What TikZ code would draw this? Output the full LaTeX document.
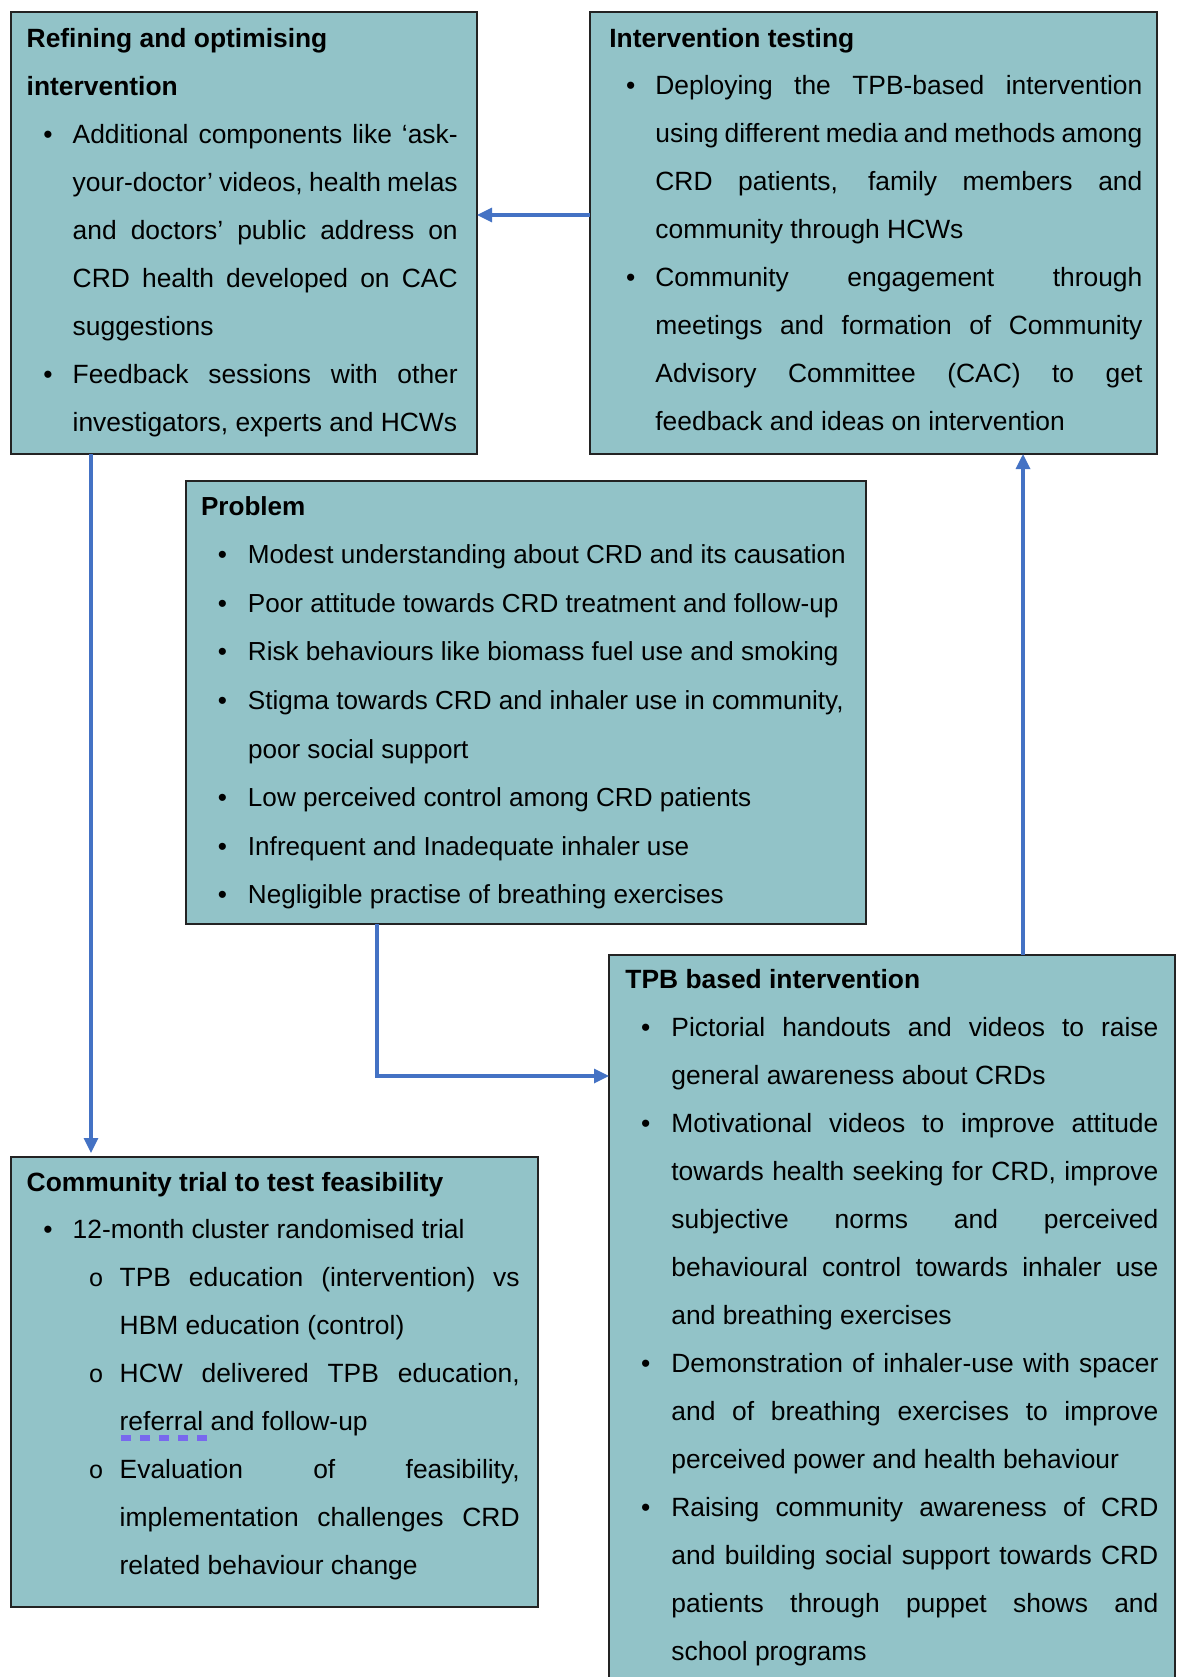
\documentclass[tikz,border=0pt]{standalone}
\usepackage{fontspec}
\setmainfont{Liberation Sans}
\newfontfamily\monofam{Liberation Mono}
\usetikzlibrary{arrows.meta}

\definecolor{boxfill}{RGB}{146,195,200}
\definecolor{boxline}{RGB}{35,35,35}
\definecolor{arrowblue}{RGB}{68,114,196}
\definecolor{markblue}{RGB}{120,104,238}

% indents used by the line macros (set inside each text block)
\newdimen\bulx \newdimen\txtx \newdimen\subbulx \newdimen\subtxtx

% one typeset line each: J = justified to the full width, N = natural width
\newcommand\headline[1]{\hbox{\vrule height 20pt depth 0pt width 0pt\bfseries #1}}
\newcommand\headmore[1]{\hbox{\bfseries #1}}
\newcommand\bulletmark{\rlap{\hskip\bulx\makebox[0pt]{\textbullet}}}
\newcommand\ringmark{\rlap{\hskip\subbulx\makebox[0pt]{\fontsize{25pt}{25pt}\monofam o}}}
\newcommand\itemJ[1]{\hbox to \hsize{\bulletmark\hskip\txtx #1}}
\newcommand\itemN[1]{\hbox to \hsize{\bulletmark\hskip\txtx #1\hfil}}
\newcommand\contJ[1]{\hbox to \hsize{\hskip\txtx #1}}
\newcommand\contN[1]{\hbox to \hsize{\hskip\txtx #1\hfil}}
\newcommand\subJ[1]{\hbox to \hsize{\ringmark\hskip\subtxtx #1}}
\newcommand\subN[1]{\hbox to \hsize{\ringmark\hskip\subtxtx #1\hfil}}
\newcommand\subcontJ[1]{\hbox to \hsize{\hskip\subtxtx #1}}
\newcommand\subcontN[1]{\hbox to \hsize{\hskip\subtxtx #1\hfil}}

\begin{document}
\begin{tikzpicture}[x=1pt,y=1pt,
  box/.style={draw=boxline,line width=1.4pt,fill=boxfill,inner sep=0pt,outer sep=0pt,anchor=north west},
  txt/.style={inner sep=0pt,outer sep=0pt,anchor=north west,font=\fontsize{26.4pt}{48pt}\selectfont},
  arr/.style={draw=arrowblue,line width=3.2pt,-{Triangle[length=15pt,width=14pt]}}]
\useasboundingbox (0,0) rectangle (1176,-1677);
\fill[white] (0,0) rectangle (1176,-1677);

\begin{scope}
\clip (0,0) rectangle (1176,-1677);

% boxes
\node[box,minimum width=466pt,minimum height=442pt] (refine) at (11,-12) {};
\node[box,minimum width=567pt,minimum height=442pt] (test) at (590,-12) {};
\node[box,minimum width=680pt,minimum height=443pt] (problem) at (186,-481) {};
\node[box,minimum width=566pt,minimum height=760pt] (tpb) at (609,-955) {};
\node[box,minimum width=527pt,minimum height=450pt] (trial) at (11,-1157) {};

% Refining and optimising intervention
\node[txt] (refineText) at (26.7,-27) {\vbox{\hsize=431pt\baselineskip=48pt
  \bulx=21.3pt \txtx=46pt
  \headline{Refining and optimising}
  \headmore{intervention}
  \itemJ{Additional components like ‘ask-}
  \contJ{your-doctor’ videos, health melas}
  \contJ{and doctors’ public address on}
  \contJ{CRD health developed on CAC}
  \contN{suggestions}
  \itemJ{Feedback sessions with other}
  \contN{investigators, experts and HCWs}}};

% Intervention testing
\node[txt] (testText) at (609.4,-27) {\vbox{\hsize=533pt\baselineskip=47.9pt
  \bulx=21.4pt \txtx=46pt
  \headline{Intervention testing}
  \itemJ{Deploying the TPB-based intervention}
  \contJ{using different media and methods among}
  \contJ{CRD patients, family members and}
  \contN{community through HCWs}
  \itemJ{Community engagement through}
  \contJ{meetings and formation of Community}
  \contJ{Advisory Committee (CAC) to get}
  \contN{feedback and ideas on intervention}}};

% Problem
\node[txt,font=\fontsize{26.1pt}{48pt}\selectfont] (problemText) at (201,-495) {\vbox{\hsize=655pt\baselineskip=48.6pt
  \bulx=21.4pt \txtx=47pt
  \headline{Problem}
  \itemN{Modest understanding about CRD and its causation}
  \itemN{Poor attitude towards CRD treatment and follow-up}
  \itemN{Risk behaviours like biomass fuel use and smoking}
  \itemN{Stigma towards CRD and inhaler use in community,}
  \contN{poor social support}
  \itemN{Low perceived control among CRD patients}
  \itemN{Infrequent and Inadequate inhaler use}
  \itemN{Negligible practise of breathing exercises}}};

% TPB based intervention
\node[txt] (tpbText) at (625.4,-968) {\vbox{\hsize=533pt\baselineskip=48pt
  \bulx=20.3pt \txtx=46pt
  \headline{TPB based intervention}
  \itemJ{Pictorial handouts and videos to raise}
  \contN{general awareness about CRDs}
  \itemJ{Motivational videos to improve attitude}
  \contJ{towards health seeking for CRD, improve}
  \contJ{subjective norms and perceived}
  \contJ{behavioural control towards inhaler use}
  \contN{and breathing exercises}
  \itemJ{Demonstration of inhaler-use with spacer}
  \contJ{and of breathing exercises to improve}
  \contN{perceived power and health behaviour}
  \itemJ{Raising community awareness of CRD}
  \contJ{and building social support towards CRD}
  \contJ{patients through puppet shows and}
  \contN{school programs}}};

% Community trial to test feasibility
\node[txt] (trialText) at (26.7,-1171) {\vbox{\hsize=493pt\baselineskip=47.9pt
  \bulx=21.3pt \txtx=46pt \subbulx=69.5pt \subtxtx=93pt
  \headline{Community trial to test feasibility}
  \itemN{12-month cluster randomised trial}
  \subJ{TPB education (intervention) vs}
  \subcontN{HBM education (control)}
  \subJ{HCW delivered TPB education,}
  \subcontN{referral and follow-up}
  \subJ{Evaluation of feasibility,}
  \subcontJ{implementation challenges CRD}
  \subcontN{related behaviour change}}};

% dashed proofing mark under "referral"
\draw[markblue,line width=6pt,dash pattern=on 10pt off 9pt]
  (121,-1438) -- (208,-1438);

% connectors
\draw[arr] ([yshift=-203pt]test.north west) -- ([yshift=-203pt]refine.north east);
\draw[arr,shorten >=4pt] ([xshift=80pt]refine.south west) -- ([xshift=80pt]trial.north west);
\draw[arr] ([xshift=191pt]problem.south west) |- ([yshift=-121pt]tpb.north west);
\draw[arr] ([xshift=414pt]tpb.north west) -- ([xshift=433pt]test.south west);
\end{scope}
\end{tikzpicture}
\end{document}
